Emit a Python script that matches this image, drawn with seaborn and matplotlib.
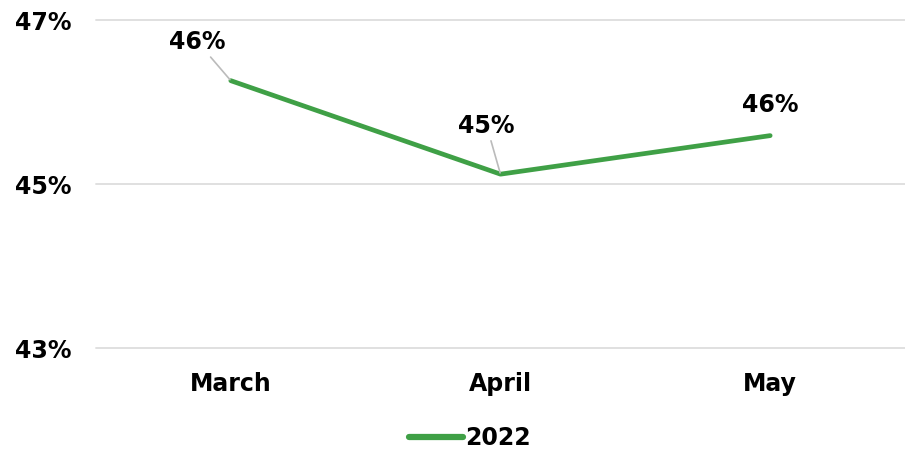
import pandas as pd
import matplotlib.pyplot as plt
import seaborn as sns

# Values
months = ['March', 'April', 'May']
share_2022 = [46.26, 45.12, 45.59]
point_labels = ['46%', '45%', '46%']
y_ticks = [43, 45, 47]
y_tick_labels = ['43%', '45%', '47%']

df = pd.DataFrame({'month': months, 'share': share_2022, 'year': '2022'})

sns.set_style('white')
plt.rcParams['font.family'] = ['DejaVu Sans']
plt.rcParams['font.weight'] = 'bold'

green = '#3fa046'
fs = 17

fig = plt.figure(figsize=(9.05, 4.53), dpi=100)
ax = fig.add_axes([96 / 905, 1 - 348 / 453, 1 - 96 / 905, (348 - 20) / 453])

sns.lineplot(data=df, x='month', y='share', hue='year', palette=[green],
             linewidth=3.4, sort=False, ax=ax, legend=True)

ax.set_xlim(-0.5, 2.5)
ax.set_ylim(43, 47)
ax.set_yticks(y_ticks)
ax.set_yticklabels(y_tick_labels)
ax.set_xlabel('')
ax.set_ylabel('')
ax.grid(axis='y', color='#e0e0e0', linewidth=1.4)
for gl in ax.get_ygridlines():
    gl.set_clip_on(False)
ax.set_axisbelow(True)
for s in ax.spines.values():
    s.set_visible(False)
ax.tick_params(axis='both', length=0, labelsize=fs, labelcolor='black')
ax.tick_params(axis='x', pad=17)
ax.tick_params(axis='y', pad=18)
for lbl in ax.get_xticklabels() + ax.get_yticklabels():
    lbl.set_fontweight('bold')

# data labels with leader lines
offsets = [(-24, 28), (-10, 35), (0, 22)]
for i, (m, v, t) in enumerate(zip(months, share_2022, point_labels)):
    dx, dy = offsets[i]
    arrow = None
    if i < 2:
        arrow = dict(arrowstyle='-', color='#bbbbbb', lw=1.2, shrinkA=0, shrinkB=1)
    ax.annotate(t, xy=(i, v), xytext=(dx, dy), textcoords='offset points',
                ha='center', va='center', fontsize=fs, fontweight='bold',
                color='black', arrowprops=arrow)

leg = ax.legend(loc='center', bbox_to_anchor=(0.462, -0.275), frameon=False,
                handlelength=2.3, handletextpad=0.1, fontsize=fs)
for txt in leg.get_texts():
    txt.set_fontweight('bold')
    txt.set_color('black')
for h in leg.get_lines():
    h.set_linewidth(4.5)
    h.set_solid_capstyle('round')

fig.savefig('out.png', dpi=100)
